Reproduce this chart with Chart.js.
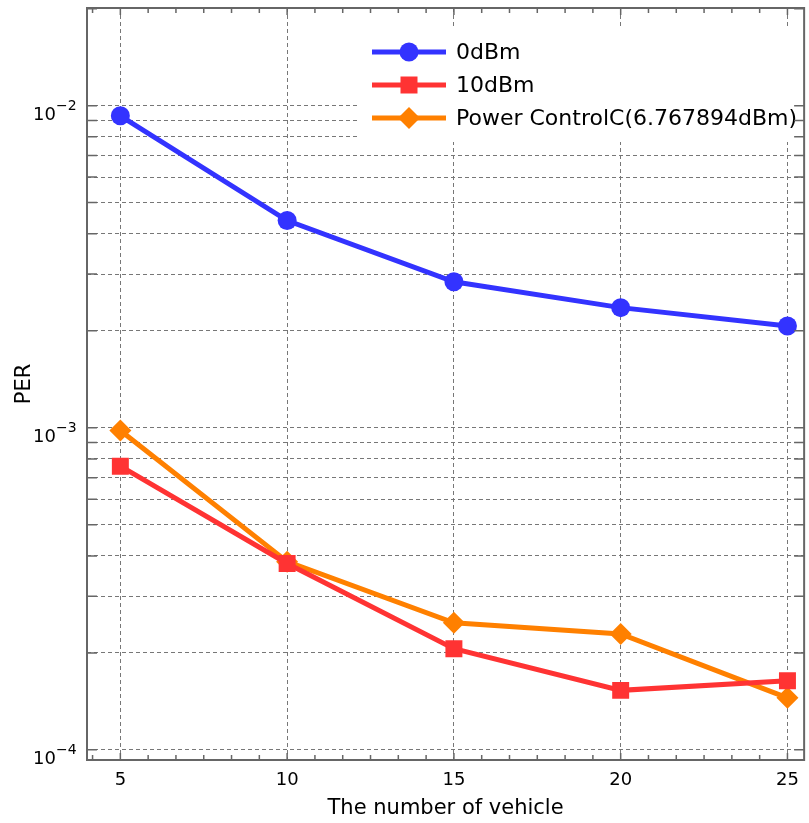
<!DOCTYPE html>
<html>
<head>
<meta charset="utf-8">
<script src="https://cdn.jsdelivr.net/npm/chart.js@4/dist/chart.umd.min.js"></script>
<style>
  html, body { margin: 0; padding: 0; background: #fff; }
  #wrap { width: 809px; height: 823px; }
</style>
</head>
<body>
<div id="wrap"><canvas id="per-chart" width="809" height="823"></canvas></div>
<script>
var vehicles = [5, 10, 15, 20, 25];
var per0dBm = [0.0093, 0.0044, 0.00284, 0.00236, 0.00207];
var per10dBm = [0.00076, 0.000379, 0.000206, 0.000153, 0.000164];
var perPowerControl = [0.00098, 0.000384, 0.000248, 0.000229, 0.000145];
var seriesNames = ['0dBm', '10dBm', 'Power ControlC(6.767894dBm)'];
var xTicks = [5, 10, 15, 20, 25];
var yDecades = [-4, -3, -2];

var FONT = '"DejaVu Sans", "Noto Sans", sans-serif';
var blue = '#3333ff', red = '#ff3333', orange = '#ff8000';
var gridColor = '#777777', frameColor = '#666666';

function points(ys) {
    return vehicles.map(function (v, i) { return { x: v, y: ys[i] }; });
}

// log minor positions 1..9 x 10^n for the grid
var yGridValues = [];
yDecades.forEach(function (e) {
    for (var m = 1; m <= 9; m++) yGridValues.push(m * Math.pow(10, e));
});

var framePlugin = {
    id: 'frame',
    afterDraw: function (chart) {
        var ctx = chart.ctx, a = chart.chartArea;
        var xs = chart.scales.x, ys = chart.scales.y;
        ctx.save();

        // legend box
        var bx = 358, by = 28, bw = 440, bh = 114;
        ctx.fillStyle = '#fff';
        ctx.fillRect(bx, by, bw, bh);
        var rows = [
            { name: seriesNames[0], color: blue, style: 'circle' },
            { name: seriesNames[1], color: red, style: 'rect' },
            { name: seriesNames[2], color: orange, style: 'diamond' }
        ];
        rows.forEach(function (r, i) {
            var cy = 52 + i * 33;
            ctx.strokeStyle = r.color;
            ctx.lineWidth = 5;
            ctx.beginPath();
            ctx.moveTo(372, cy);
            ctx.lineTo(446, cy);
            ctx.stroke();
            ctx.fillStyle = r.color;
            ctx.beginPath();
            if (r.style === 'circle') {
                ctx.arc(409, cy, 9.5, 0, Math.PI * 2);
            } else if (r.style === 'rect') {
                ctx.rect(409 - 8.5, cy - 8.5, 17, 17);
            } else {
                ctx.moveTo(409, cy - 11);
                ctx.lineTo(420, cy);
                ctx.lineTo(409, cy + 11);
                ctx.lineTo(398, cy);
                ctx.closePath();
            }
            ctx.fill();
            ctx.fillStyle = '#000';
            ctx.font = '22px ' + FONT;
            ctx.textAlign = 'left';
            ctx.textBaseline = 'middle';
            ctx.fillText(r.name, 456, cy + 1);
        });

        // frame
        ctx.strokeStyle = frameColor;
        ctx.lineWidth = 2;
        ctx.strokeRect(a.left, a.top, a.right - a.left, a.bottom - a.top);

        // inward ticks
        ctx.lineWidth = 1.5;
        ctx.beginPath();
        for (var v = 4 + 1 / 6; v <= 25.5; v += 5 / 6) {
            var px = xs.getPixelForValue(v);
            var major = Math.abs(v - Math.round(v)) < 1e-6 && Math.round(v) % 5 === 0;
            var len = major ? 7 : 5;
            ctx.moveTo(px, a.bottom); ctx.lineTo(px, a.bottom - len);
            ctx.moveTo(px, a.top); ctx.lineTo(px, a.top + len);
        }
        yGridValues.forEach(function (val) {
            var py = ys.getPixelForValue(val);
            if (py < a.top || py > a.bottom) return;
            ctx.moveTo(a.left, py); ctx.lineTo(a.left + 10, py);
            ctx.moveTo(a.right, py); ctx.lineTo(a.right - 10, py);
        });
        ctx.stroke();

        // y tick labels 10^n
        ctx.fillStyle = '#000';
        ctx.textBaseline = 'alphabetic';
        yDecades.forEach(function (e) {
            var py = ys.getPixelForValue(Math.pow(10, e));
            ctx.font = '18px ' + FONT;
            ctx.textAlign = 'right';
            ctx.fillText('10', 56, py + 14);
            ctx.font = '14px ' + FONT;
            ctx.textAlign = 'left';
            ctx.fillText('\u2212' + Math.abs(e), 56, py + 4);
        });
        ctx.restore();
    }
};

var ctx = document.getElementById('per-chart').getContext('2d');
var perChart = new Chart(ctx, {
    type: 'line',
    data: {
        datasets: [
            {
                label: seriesNames[0],
                data: points(per0dBm),
                borderColor: blue,
                backgroundColor: blue,
                borderWidth: 5,
                pointStyle: 'circle',
                pointRadius: 9.5,
                pointBorderWidth: 0
            },
            {
                label: seriesNames[1],
                data: points(per10dBm),
                borderColor: red,
                backgroundColor: red,
                borderWidth: 5,
                pointStyle: 'rect',
                pointRadius: 12,
                pointBorderWidth: 0
            },
            {
                label: seriesNames[2],
                data: points(perPowerControl),
                borderColor: orange,
                backgroundColor: orange,
                borderWidth: 5,
                pointStyle: 'rectRot',
                pointRadius: 11,
                pointBorderWidth: 0
            }
        ]
    },
    options: {
        responsive: false,
        animation: false,
        layout: { autoPadding: false, padding: { top: 8, right: 4, left: 0, bottom: 0 } },
        plugins: { legend: { display: false }, tooltip: { enabled: false } },
        scales: {
            x: {
                type: 'linear',
                min: 4,
                max: 25.5,
                afterBuildTicks: function (scale) {
                    scale.ticks = xTicks.map(function (v) { return { value: v }; });
                },
                afterFit: function (scale) { scale.height = 63; },
                grid: { color: gridColor, lineWidth: 1, drawTicks: false },
                border: { display: false, dash: [4, 3] },
                ticks: { color: '#000', font: { family: FONT, size: 18 }, padding: 10, maxRotation: 0 },
                title: { display: true, text: 'The number of vehicle', color: '#000', font: { family: FONT, size: 21 }, padding: { top: 0, bottom: 2 } }
            },
            y: {
                type: 'logarithmic',
                min: 0.000093,
                max: 0.0201,
                afterBuildTicks: function (scale) {
                    scale.ticks = yGridValues.map(function (v) { return { value: v }; });
                },
                afterFit: function (scale) { scale.width = 87; },
                grid: { color: gridColor, lineWidth: 1, drawTicks: false },
                border: { display: false, dash: [4, 3] },
                ticks: { display: false },
                title: { display: true, text: 'PER', color: '#000', font: { family: FONT, size: 21 }, padding: { top: 12, bottom: 0 } }
            }
        }
    },
    plugins: [framePlugin]
});
</script>
</body>
</html>
